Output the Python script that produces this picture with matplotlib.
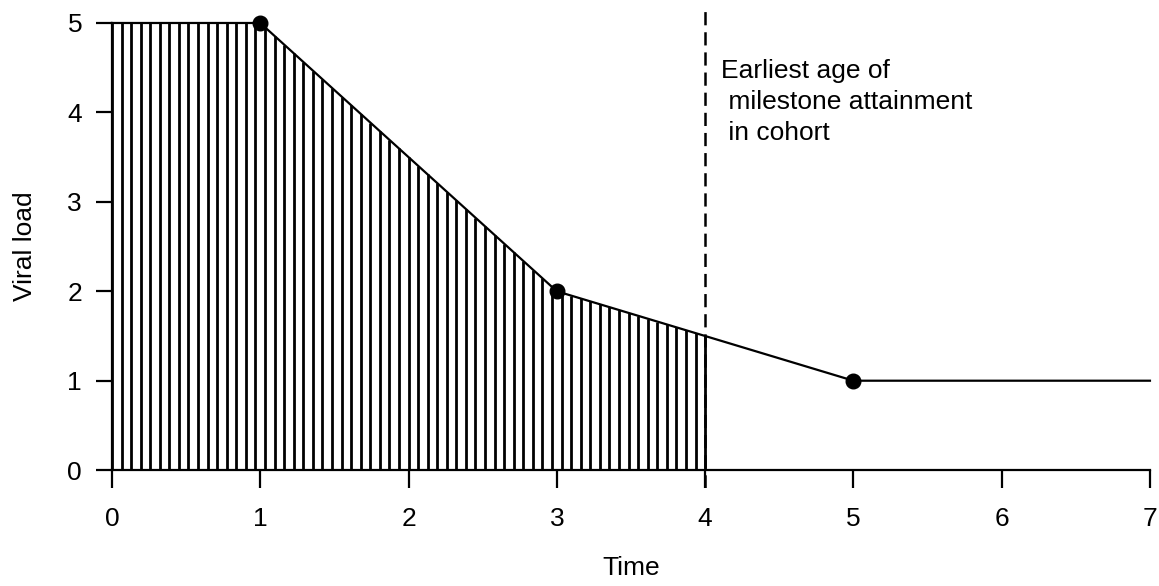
import numpy as np
import matplotlib
matplotlib.use('Agg')
import matplotlib.pyplot as plt

plt.rcParams['font.family'] = ['Liberation Sans', 'DejaVu Sans']
plt.rcParams['lines.scale_dashes'] = False

# Data
time = [0, 1, 3, 5, 7]
viral_load = [5, 5, 2, 1, 1]
point_time = [1, 3, 5]
point_load = [5, 2, 1]
cutoff = 4
x_ticks = [0, 1, 2, 3, 4, 5, 6, 7]
y_ticks = [0, 1, 2, 3, 4, 5]
note = "Earliest age of\n milestone attainment\n in cohort"

fig = plt.figure(figsize=(11.59, 5.86), dpi=100)
ax = fig.add_axes([0.0966, 0.1672, 0.8956, 0.8241])

# hatched area under the curve up to the cutoff
hatch_x = np.linspace(0, cutoff, 63)
hatch_y = np.interp(hatch_x, time, viral_load)
ax.vlines(hatch_x, 0, hatch_y, color='black', lw=2.0)

# main curve and points
ax.plot(time, viral_load, color='black', lw=1.6, clip_on=False)
ax.plot(point_time, point_load, 'o', color='black', ms=10.5, clip_on=False)

# cutoff line
ax.axvline(cutoff, color='black', lw=1.8, dashes=(9.5, 5))
ax.text(cutoff + 0.11, 4.12, note, fontsize=19, ha='left', va='center',
        linespacing=1.36)

ax.set_xlim(0, 7)
ax.set_ylim(-0.2, 5.2)
ax.set_xticks(x_ticks)
ax.set_yticks(y_ticks)
ax.tick_params(axis='x', length=12.7, width=1.6, pad=14, labelsize=19)
ax.tick_params(axis='y', length=11.5, width=1.6, pad=10, labelsize=19)

for s in ['top', 'right']:
    ax.spines[s].set_visible(False)
ax.spines['left'].set_position(('data', 0))
ax.spines['left'].set_bounds(0, 5)
ax.spines['bottom'].set_position(('data', 0))
ax.spines['bottom'].set_bounds(0, 7)
for s in ['left', 'bottom']:
    ax.spines[s].set_linewidth(1.6)

ax.set_xlabel('Time', fontsize=19, labelpad=18)
ax.set_ylabel('Viral load', fontsize=19, labelpad=22)

fig.savefig('out.png', dpi=100)
